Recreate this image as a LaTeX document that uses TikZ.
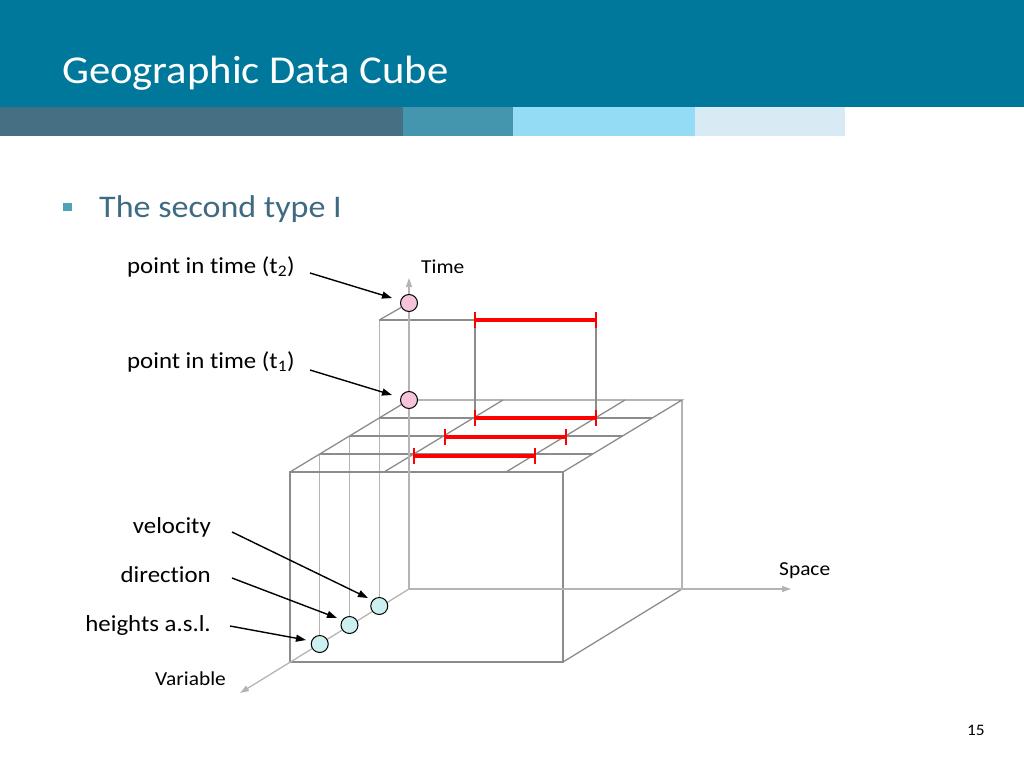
\documentclass[tikz,border=0pt]{standalone}
\usepackage{fontspec}
\setmainfont{Carlito}[FakeStretch=1.08,Ligatures=NoCommon]
\usetikzlibrary{arrows.meta}
\definecolor{hdr}{HTML}{00789B}
\definecolor{barA}{HTML}{456F82}
\definecolor{barB}{HTML}{4396AE}
\definecolor{barC}{HTML}{94DCF6}
\definecolor{barD}{HTML}{D8EBF4}
\definecolor{subc}{HTML}{3F6B82}
\definecolor{bulc}{HTML}{4FA3B8}
\definecolor{cubeg}{HTML}{8C8C8C}
\definecolor{axisg}{HTML}{B4B4B4}
\definecolor{thing}{HTML}{B4B4B4}
\definecolor{pinkf}{HTML}{F5C4DC}
\definecolor{cyanf}{HTML}{CCEFEF}
\begin{document}
\begin{tikzpicture}[x=1pt,y=-1pt,
  cube/.style={draw=cubeg,line width=1.3pt},
  thin/.style={draw=thing,line width=1.4pt},
  axis/.style={draw=axisg,line width=1.3pt,-{Triangle[length=9pt,width=6pt]}},
  redbar/.style={draw=red,line width=3.5pt},
  redtick/.style={draw=red,line width=2.2pt},
  ann/.style={draw=black,line width=1.4pt,-{Triangle[length=10pt,width=7pt]}},
  tpt/.style={circle,draw=black,line width=1pt,fill=pinkf,minimum size=17pt,inner sep=0pt},
  vpt/.style={circle,draw=black,line width=1pt,fill=cyanf,minimum size=17pt,inner sep=0pt},
  lbl/.style={inner sep=0pt,font=\fontsize{23}{26}\selectfont},
  axl/.style={inner sep=0pt,font=\fontsize{19.8}{22}\selectfont}]
\useasboundingbox (0,0) rectangle (1024,768);
% header
\fill[hdr] (0,0) rectangle (1024,107);
\fill[barA] (0,107) rectangle (403,136);
\fill[barB] (403,107) rectangle (513,136);
\fill[barC] (513,107) rectangle (695,136);
\fill[barD] (695,107) rectangle (845,136);
\node[anchor=base west,inner sep=0pt,text=white,font=\fontsize{39.5}{44}\selectfont] (title) at (62,83) {Geographic Data Cube};
\fill[bulc] (63,203) rectangle (72,211);
\node[anchor=base west,inner sep=0pt,text=subc,font=\fontsize{31.5}{36}\selectfont] (sub) at (99,217) {The second type I};
% cube coordinates
\coordinate (A) at (290,472);
\coordinate (B) at (563,472);
\coordinate (C) at (290,662);
\coordinate (D) at (563,662);
\coordinate (O) at (409,589);
\coordinate (E) at (409,400);
\coordinate (G) at (682,400);
\coordinate (H) at (682,589);
% left face verticals
\draw[thin] (379.25,320) -- (379.25,607);
\draw[thin] (349.5,436) -- (349.5,625.5);
\draw[thin] (319.75,454) -- (319.75,644);
% top grid
\draw[cube] (379.25,418) -- (652.25,418);
\draw[cube] (349.5,436) -- (622.5,436);
\draw[cube] (319.75,454) -- (592.75,454);
\draw[cube] (503,400) -- (384,472);
\draw[cube] (625,400) -- (506,472);
% t2 layer
\draw[cube] (379.25,320) -- (475,320);
\draw[cube] (475,320) -- (475,418);
\draw[cube] (596,320) -- (596,418);
% cube edges
\draw[cube] (A) -- (B) -- (D) -- (C) -- cycle;
\draw[cube] (A) -- (E) -- (G) -- (B);
\draw[cube] (G) -- (H) -- (D);
% axes
\coordinate (Ttip) at (409,278);
\coordinate (Stip) at (791,589);
\coordinate (Vtip) at (240,693);
\draw[axis] (O) -- (Ttip);
\draw[axis] (O) -- (Stip);
\draw[axis] (O) -- (Vtip);
% t2 connector
\node[tpt] (t2) at (409,303) {};
\draw[cube] (379.25,320) -- (t2);
\node[tpt] (t1) at (E) {};
% red bars
\foreach \y/\xa/\xb in {320/475/596, 418/475/596, 437/445/566, 456/414/535}{
  \draw[redbar] (\xa,\y) -- (\xb,\y);
  \draw[redtick] (\xa,\y-8) -- (\xa,\y+8);
  \draw[redtick] (\xb,\y-8) -- (\xb,\y+8);
}
% variable points
\node[vpt] (v1) at (379.25,606) {};
\node[vpt] (v2) at (349.5,625) {};
\node[vpt] (v3) at (319.75,644) {};
% labels
\node[lbl,anchor=base west] (lt2) at (127,273) {point in time (t\textsubscript{2})};
\node[lbl,anchor=base west] (lt1) at (127,368) {point in time (t\textsubscript{1})};
\node[lbl,anchor=base east] (lv) at (211,533) {velocity};
\node[lbl,anchor=base east] (ld) at (211,582) {direction};
\node[lbl,anchor=base east] (lh) at (211,631) {heights a.s.l.};
\node[axl,anchor=base east] (lvar) at (226,685) {Variable};
\node[axl,anchor=base west] (ltime) at (421,273) {Time};
\node[axl,anchor=base west] (lspace) at (779,575) {Space};
\node[inner sep=0pt,anchor=base west,font=\fontsize{16}{18}\selectfont] (pg) at (967,735) {15};
% annotation arrows
\coordinate (a1s) at (310,273);
\coordinate (a1e) at (392,298);
\coordinate (a2s) at (310,370);
\coordinate (a2e) at (392,395);
\coordinate (a3s) at (232,532);
\coordinate (a3e) at (368,598);
\coordinate (a4s) at (232,578);
\coordinate (a4e) at (337,618);
\coordinate (a5s) at (230,626);
\coordinate (a5e) at (306,640);
\draw[ann] (a1s) -- (a1e);
\draw[ann] (a2s) -- (a2e);
\draw[ann] (a3s) -- (a3e);
\draw[ann] (a4s) -- (a4e);
\draw[ann] (a5s) -- (a5e);
\end{tikzpicture}
\end{document}
